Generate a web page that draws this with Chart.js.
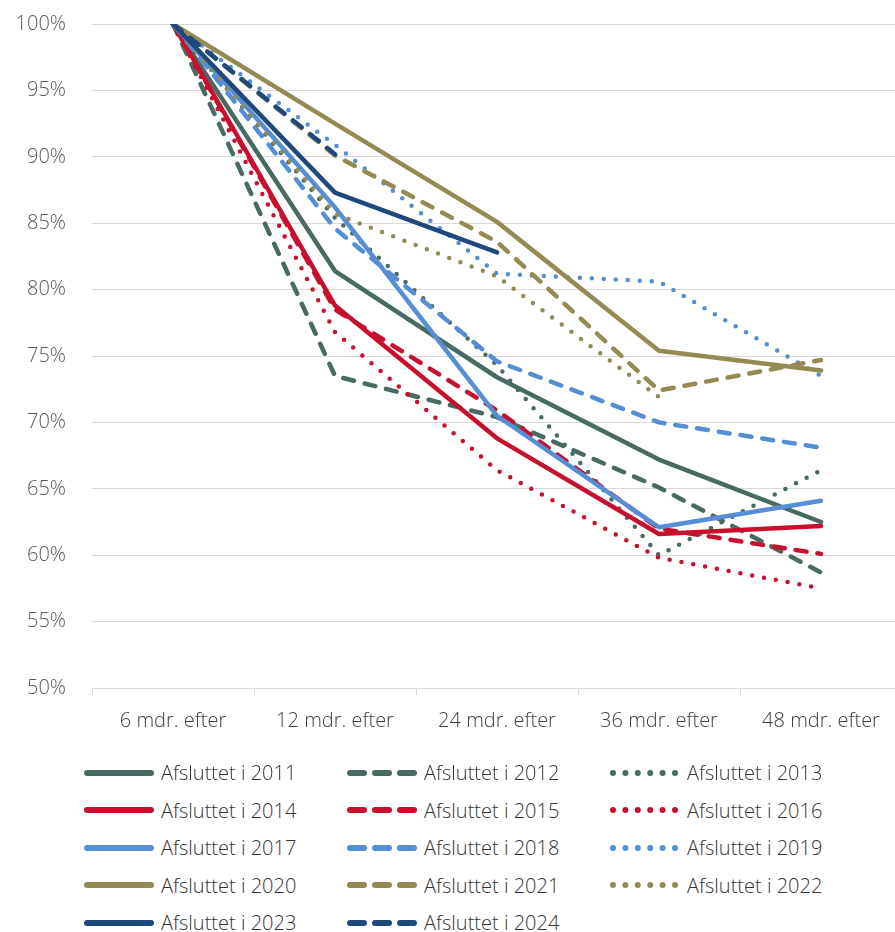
<!DOCTYPE html>
<html>
<head>
<meta charset="utf-8">
<script src="https://cdn.jsdelivr.net/npm/chart.js@4"></script>
<style>
  html, body { margin: 0; padding: 0; background: #fff; overflow: hidden; }
  #wrap { position: absolute; left: 0; top: 0; width: 902px; height: 755px; }
  #legend { position: absolute; left: 0; top: 754px; width: 895px; font-family: "Open Sans", sans-serif; font-weight: 300; font-size: 20px; color: #333; }
  .item { position: absolute; height: 37px; display: flex; align-items: center; white-space: nowrap; }
  .item svg { margin-right: 6px; }
</style>
</head>
<body>
<div id="wrap"><canvas id="retention"></canvas></div>
<div id="legend"></div>
<script>
// categories on the x axis
const categories = ["6 mdr. efter", "12 mdr. efter", "24 mdr. efter", "36 mdr. efter", "48 mdr. efter"];

// share still in place, percent
const afsluttet2011 = [100, 81.4, 73.4, 67.2, 62.5];
const afsluttet2012 = [100, 73.5, 70.4, 65.1, 58.7];
const afsluttet2013 = [100, 85.4, 74.3, 60.0, 66.4];
const afsluttet2014 = [100, 78.8, 68.8, 61.6, 62.2];
const afsluttet2015 = [100, 78.5, 70.9, 62.0, 60.1];
const afsluttet2016 = [100, 76.8, 66.4, 59.8, 57.5];
const afsluttet2017 = [100, 86.2, 70.5, 62.1, 64.1];
const afsluttet2018 = [100, 84.6, 74.6, 70.0, 68.1];
const afsluttet2019 = [100, 90.9, 81.2, 80.6, 73.5];
const afsluttet2020 = [100, 92.5, 85.1, 75.4, 73.9];
const afsluttet2021 = [100, 90.1, 83.6, 72.4, 74.7];
const afsluttet2022 = [100, 85.7, 81.0, 71.9, null];
const afsluttet2023 = [100, 87.3, 82.8, null, null];
const afsluttet2024 = [100, 90.2, null, null, null];

// y axis ticks
const yTicks = [50, 55, 60, 65, 70, 75, 80, 85, 90, 95, 100];

const green = "#476a62";
const red = "#c8102e";
const lightBlue = "#558ed5";
const tan = "#948a54";
const navy = "#1f497d";

const DASH = [11, 11];
const DOT = [0, 12];

const series = [
  { label: "Afsluttet i 2011", data: afsluttet2011, color: green, dash: [] },
  { label: "Afsluttet i 2012", data: afsluttet2012, color: green, dash: DASH },
  { label: "Afsluttet i 2013", data: afsluttet2013, color: green, dash: DOT },
  { label: "Afsluttet i 2014", data: afsluttet2014, color: red, dash: [] },
  { label: "Afsluttet i 2015", data: afsluttet2015, color: red, dash: DASH },
  { label: "Afsluttet i 2016", data: afsluttet2016, color: red, dash: DOT },
  { label: "Afsluttet i 2017", data: afsluttet2017, color: lightBlue, dash: [] },
  { label: "Afsluttet i 2018", data: afsluttet2018, color: lightBlue, dash: DASH },
  { label: "Afsluttet i 2019", data: afsluttet2019, color: lightBlue, dash: DOT },
  { label: "Afsluttet i 2020", data: afsluttet2020, color: tan, dash: [] },
  { label: "Afsluttet i 2021", data: afsluttet2021, color: tan, dash: DASH },
  { label: "Afsluttet i 2022", data: afsluttet2022, color: tan, dash: DOT },
  { label: "Afsluttet i 2023", data: afsluttet2023, color: navy, dash: [] },
  { label: "Afsluttet i 2024", data: afsluttet2024, color: navy, dash: DASH }
];

const FONT = { family: "'Open Sans', sans-serif", size: 20, weight: 300 };

const ctx = document.getElementById("retention").getContext("2d");
new Chart(ctx, {
  type: "line",
  data: {
    labels: categories,
    datasets: series.map((s, i) => ({
      label: s.label,
      data: s.data,
      borderColor: s.color,
      backgroundColor: s.color,
      borderWidth: 4.5,
      borderDash: s.dash,
      borderCapStyle: "round",
      borderJoinStyle: "round",
      pointRadius: 0,
      tension: 0,
      spanGaps: false,
      order: series.length - i   // later years drawn on top
    }))
  },
  options: {
    responsive: true,
    maintainAspectRatio: false,
    animation: false,
    layout: { padding: { top: 24, bottom: 8, left: 0, right: 0 } },
    plugins: {
      legend: { display: false },
      tooltip: { enabled: false }
    },
    scales: {
      x: {
        offset: true,
        grid: { offset: true, drawOnChartArea: false, drawTicks: true, tickLength: 7, color: "#d9d9d9" },
        border: { display: true, color: "#d9d9d9", width: 1 },
        ticks: { font: FONT, color: "#404040", padding: 14, maxRotation: 0 }
      },
      y: {
        min: 50,
        max: 100,
        afterBuildTicks: (scale) => { scale.ticks = yTicks.map(v => ({ value: v })); },
        afterFit: (scale) => { scale.width = 92; },
        // invisible tick marks push the labels left without adding top padding
        grid: { color: "#d9d9d9", lineWidth: 1, drawTicks: true, tickLength: 26, tickColor: "rgba(0,0,0,0)" },
        border: { display: false },
        ticks: { font: FONT, color: "#595959", padding: 0, callback: v => v + "%" }
      }
    }
  }
});

// legend, three columns like the original
const legend = document.getElementById("legend");
series.forEach((s, i) => {
  const col = i % 3, row = Math.floor(i / 3);
  const item = document.createElement("div");
  item.className = "item";
  item.style.left = (83 + col * 263) + "px";
  item.style.top = (row * 37.5) + "px";
  let dash = "";
  if (s.dash === DASH) dash = 'stroke-dasharray="14 11"';
  if (s.dash === DOT) dash = 'stroke-dasharray="0 12.4"';
  item.innerHTML =
    '<svg width="72" height="12"><line x1="4" y1="6" x2="68" y2="6" stroke="' + s.color +
    '" stroke-width="6" stroke-linecap="round" ' + dash + '/></svg><span>' + s.label + '</span>';
  legend.appendChild(item);
});
</script>
</body>
</html>
